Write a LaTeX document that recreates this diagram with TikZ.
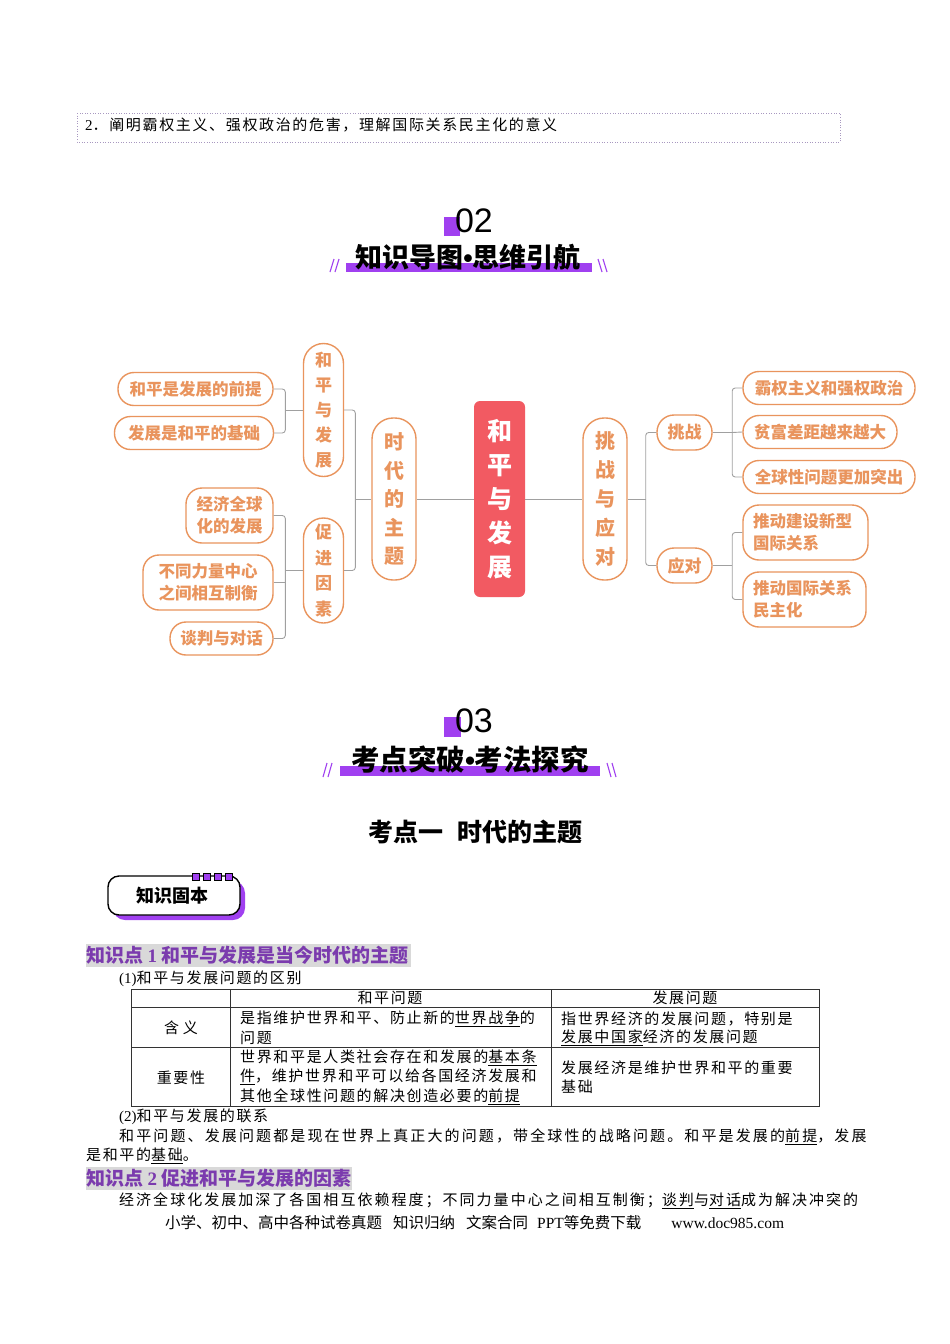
\documentclass[tikz,border=0pt]{standalone}
\usepackage{fontspec}
\usepackage{graphicx}
\setmainfont{Liberation Serif}
\newfontfamily\cjk{Noto Sans CJK SC}
\newfontfamily\cjkls[LetterSpace=11]{Noto Sans CJK SC}
\newfontfamily\numfont{Liberation Sans}
\definecolor{orng}{HTML}{E9945D}
\definecolor{rootred}{HTML}{F25A62}
\definecolor{purp}{HTML}{A040F0}
\definecolor{headp}{HTML}{7B3BAE}
\definecolor{hlgray}{HTML}{D9D9D9}
\definecolor{lgray}{HTML}{A0A0A0}
\definecolor{dotc}{HTML}{A898C0}
\tikzset{
  mm/.style={draw=orng, line width=1.4pt, text=orng, inner sep=0pt, align=center,
    font=\cjk\bfseries\fontsize{16.5}{22}\selectfont},
  pillv/.style={mm, rounded corners=20pt},
  leaf/.style={mm, rounded corners=16pt, minimum height=33pt},
  leaftwo/.style={mm, rounded corners=16pt, minimum height=55pt},
  conn/.style={draw=lgray, line width=0.9pt, rounded corners=3pt},
  body/.style={anchor=west, inner sep=0pt, font=\cjkls\fontsize{15}{18}\selectfont},
  title/.style={inner sep=0pt, font=\cjk\bfseries\fontsize{25}{25}\selectfont},
  slash/.style={draw=purp, line width=1.1pt},
  tline/.style={draw=black!80, line width=0.7pt},
  kphead/.style={anchor=west, inner sep=0pt, text=headp, font=\cjk\bfseries\fontsize{19}{19}\selectfont},
}
\begin{document}
\begin{tikzpicture}[x=1pt,y=-1pt]
\useasboundingbox (0,0) rectangle (950,1344);
\fill[white] (0,0) rectangle (950,1344);

% top dotted box
\draw[dotc, dotted, line width=0.6pt] (77,113) rectangle (840,142);
\node[body] (goal) at (85,125) {{\rmfamily 2}．阐明霸权主义、强权政治的危害，理解国际关系民主化的意义};

% header 02
\fill[purp] (444,217) rectangle (460,236);
\node[inner sep=0pt, font=\numfont\fontsize{34}{34}\selectfont] (n02) at (474,221) {02};
\fill[purp] (346,263) rectangle (592,272);
\node[title, font=\cjk\bfseries\fontsize{27}{27}\selectfont] (t02) at (468,257) {知识导图{\numfont\bfseries •}思维引航};
\draw[slash] (330,272) -- (334,259) (335,272) -- (339,259);
\draw[slash] (598,259) -- (602,272) (603,259) -- (607,272);

% mind map
\node[inner sep=0pt, fill=rootred, rounded corners=6pt, minimum width=51pt, minimum height=196pt,
  text=white, align=center, font=\cjk\bfseries\fontsize{25}{34}\selectfont] (root) at (499.5,499) {和\\平\\与\\发\\展};
\node[pillv, minimum width=44pt, minimum height=162pt, rounded corners=21pt,
  font=\cjk\bfseries\fontsize{20}{28.5}\selectfont] (zt) at (394,499) {时\\代\\的\\主\\题};
\node[pillv, minimum width=40pt, minimum height=133pt,
  font=\cjk\bfseries\fontsize{17}{25}\selectfont] (hp) at (323.5,410) {和\\平\\与\\发\\展};
\node[pillv, minimum width=40pt, minimum height=105pt,
  font=\cjk\bfseries\fontsize{17}{25.5}\selectfont] (cj) at (323.5,570.5) {促\\进\\因\\素};
\node[leaf, minimum width=155pt] (l1) at (195.5,389) {和平是发展的前提};
\node[leaf, minimum width=159pt] (l2) at (194,433) {发展是和平的基础};
\node[leaftwo, minimum width=87pt] (l3) at (229.5,515.5) {经济全球\\化的发展};
\node[leaftwo, minimum width=130pt] (l4) at (208,582.5) {不同力量中心\\之间相互制衡};
\node[leaf, minimum width=103pt] (l5) at (221.5,638.5) {谈判与对话};

\node[pillv, minimum width=44pt, minimum height=162pt, rounded corners=21pt,
  font=\cjk\bfseries\fontsize{20}{29}\selectfont] (tz) at (605,499) {挑\\战\\与\\应\\对};
\node[mm, rounded corners=17pt, minimum width=55pt, minimum height=35pt,
  font=\cjk\bfseries\fontsize{17}{22}\selectfont] (tzn) at (684.5,432.5) {挑战};
\node[mm, rounded corners=17pt, minimum width=55pt, minimum height=35pt,
  font=\cjk\bfseries\fontsize{17}{22}\selectfont] (yd) at (684.5,565.5) {应对};
\node[leaf, minimum width=172pt] (r1) at (829,388) {霸权主义和强权政治};
\node[leaf, minimum width=154pt] (r2) at (820,432) {贫富差距越来越大};
\node[leaf, minimum width=172pt] (r3) at (829,477) {全球性问题更加突出};
\node[leaftwo, minimum width=125pt, align=left, text width=105pt, inner xsep=10pt] (r4) at (805.5,532.5) {推动建设新型\\国际关系};
\node[leaftwo, minimum width=123pt, align=left, text width=103pt, inner xsep=10pt] (r5) at (804.5,599.5) {推动国际关系\\民主化};

% connectors
\draw[conn] (root.west) -- (zt.east);
\draw[conn] (root.east) -- (tz.west);
\draw[conn] (zt.west) -- ++(-16,0) coordinate (zb);
\draw[conn] (hp.east) -| (zb) |- (cj.east);
\draw[conn] (hp.west) -- ++(-17.5,0) coordinate (hb);
\draw[conn] (l1.east) -| (hb) |- (l2.east);
\draw[conn] (cj.west) -- ++(-17.5,0) coordinate (cb);
\draw[conn] (l3.east) -| (cb) |- (l5.east);
\draw[conn] (l4.east) -- (l4.east -| cb);
\draw[conn] (tz.east) -- ++(18,0) coordinate (tb);
\draw[conn] (tzn.west) -| (tb) |- (yd.west);
\draw[conn] (tzn.east) -- ++(19.5,0) coordinate (xb);
\draw[conn] (r1.west) -| (xb) |- (r3.west);
\draw[conn] (xb) -- (r2.west);
\draw[conn] (yd.east) -- ++(19.5,0) coordinate (db);
\draw[conn] (r4.west) -| (db) |- (r5.west);

% header 03
\fill[purp] (444,717) rectangle (461,737);
\node[inner sep=0pt, font=\numfont\fontsize{34}{34}\selectfont] (n03) at (474,721) {03};
\fill[purp] (340,766) rectangle (600,776);
\node[title, font=\cjk\bfseries\fontsize{28.5}{28.5}\selectfont] (t03) at (470,760) {考点突破{\numfont\bfseries •}考法探究};
\draw[slash] (323,777) -- (327,763) (328,777) -- (332,763);
\draw[slash] (607,763) -- (611,777) (612,763) -- (616,777);

\node[title] (kd1) at (475,832) {考点一\hspace{14pt}时代的主题};

% badge
\path[fill=purp] (113,920) [rounded corners=3pt] -- (113,893) [rounded corners=12pt] -- (113,881) -- (245,881) [rounded corners=12pt] -- (245,920) -- cycle;
\draw[fill=white, line width=1.4pt, rounded corners=11pt] (108,915) -- (108,876) -- (240,876) -- (240,915) -- cycle;
\foreach \i in {0,1,2,3} {\draw[fill=purp, line width=0.8pt] (192+11*\i,873) rectangle ++(7,7);}
\node[inner sep=0pt, font=\cjk\bfseries\fontsize{18}{18}\selectfont] (badge) at (172,896) {知识固本};

% knowledge point 1
\fill[hlgray] (86,944) rectangle (411,967);
\node[kphead] (kp1) at (86,955.5) {知识点 {\rmfamily\bfseries 1} 和平与发展是当今时代的主题};
\node[body] (s1) at (119,979) {{\rmfamily (1)}和平与发展问题的区别};

% table
\draw[tline] (131,989) rectangle (819,1106);
\draw[tline] (230,989) -- (230,1106) (551,989) -- (551,1106);
\draw[tline] (131,1007) -- (819,1007) (131,1047) -- (819,1047);
\node[body, anchor=center] (h1) at (390,998) {和平问题};
\node[body, anchor=center] (h2) at (685,998) {发展问题};
\node[body, anchor=center] (c1) at (181,1028) {含\hspace{4pt}义};
\node[body, anchor=center] (c2) at (181,1078) {重要性};
\node[body] (a1) at (240,1019) {是指维护世界和平、防止新的\underline{世界战争}的};
\node[body] (a2) at (240,1038) {问题};
\node[body] (b1) at (561,1019) {指世界经济的发展问题，特别是};
\node[body] (b2) at (561,1038) {\underline{发展中国家}经济的发展问题};
\node[body] (a3) at (240,1058) {世界和平是人类社会存在和发展的\underline{基本条}};
\node[body] (a4) at (240,1077) {\underline{件}，维护世界和平可以给各国经济发展和};
\node[body] (a5) at (240,1097) {其他全球性问题的解决创造必要的\underline{前提}};
\node[body] (b3) at (561,1068) {发展经济是维护世界和平的重要};
\node[body] (b4) at (561,1087) {基础};

\node[body] (s2) at (119,1117) {{\rmfamily (2)}和平与发展的联系};
\node[body] (p1) at (119,1137) {\addfontfeature{LetterSpace=14.2}和平问题、发展问题都是现在世界上真正大的问题，带全球性的战略问题。和平是发展的\underline{前提}，发展};
\node[body] (p2) at (86,1156) {是和平的\underline{基础}。};

% knowledge point 2
\fill[hlgray] (86,1167) rectangle (352,1190);
\node[kphead] (kp2) at (86,1178.5) {知识点 {\rmfamily\bfseries 2} 促进和平与发展的因素};
\node[body] (p3) at (119,1201) {\addfontfeature{LetterSpace=13.5}经济全球化发展加深了各国相互依赖程度；不同力量中心之间相互制衡；\underline{谈判}与\underline{对话}成为解决冲突的};

% footer
\node[anchor=west, inner sep=0pt, font=\cjk\fontsize{15.5}{18}\selectfont] (foot) at (165,1223) {小学、初中、高中各种试卷真题\hspace{11pt}知识归纳\hspace{11pt}文案合同\hspace{9pt}{\rmfamily PPT}等免费下载\hspace{30pt}{\rmfamily www.doc985.com}};
\end{tikzpicture}
\end{document}
